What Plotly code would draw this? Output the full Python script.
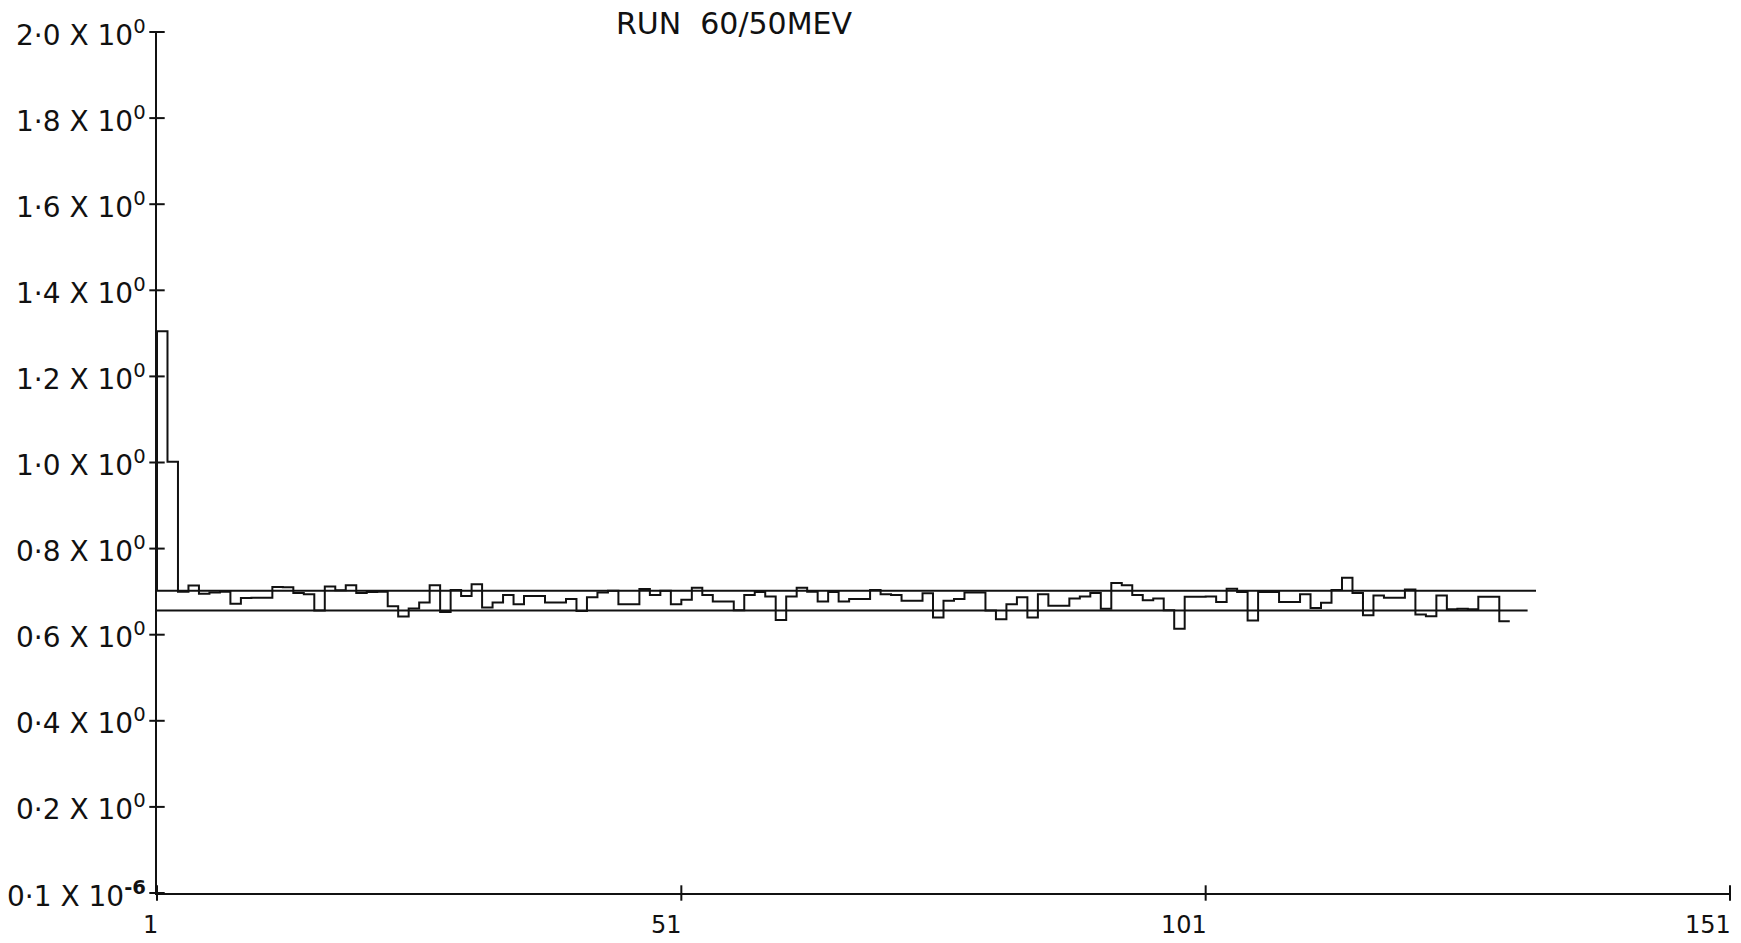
import plotly.graph_objects as go

# ---- data ----
bin_values = [
    1.305, 1.002, 0.700, 0.714, 0.695, 0.698, 0.700, 0.672, 0.685, 0.686,
    0.686, 0.711, 0.710, 0.697, 0.694, 0.656, 0.712, 0.703, 0.715, 0.697,
    0.699, 0.700, 0.666, 0.642, 0.661, 0.675, 0.715, 0.653, 0.704, 0.690,
    0.717, 0.663, 0.675, 0.692, 0.671, 0.690, 0.690, 0.675, 0.675, 0.683,
    0.655, 0.687, 0.698, 0.702, 0.671, 0.671, 0.706, 0.692, 0.702, 0.671,
    0.681, 0.709, 0.692, 0.677, 0.677, 0.657, 0.692, 0.699, 0.689, 0.634,
    0.689, 0.709, 0.700, 0.677, 0.699, 0.677, 0.683, 0.683, 0.704, 0.694,
    0.692, 0.679, 0.679, 0.696, 0.640, 0.679, 0.683, 0.698, 0.698, 0.656,
    0.636, 0.671, 0.687, 0.640, 0.694, 0.667, 0.667, 0.684, 0.689, 0.697,
    0.660, 0.720, 0.715, 0.692, 0.680, 0.684, 0.657, 0.614, 0.688, 0.688,
    0.689, 0.676, 0.707, 0.699, 0.633, 0.699, 0.699, 0.676, 0.676, 0.694,
    0.662, 0.674, 0.704, 0.732, 0.697, 0.645, 0.691, 0.686, 0.686, 0.705,
    0.647, 0.643, 0.691, 0.659, 0.660, 0.659, 0.688, 0.688, 0.631,
]
bin_start = 1
upper_level = 0.702
lower_level = 0.656
upper_end = 132.5
lower_end = 131.7

y_tick_vals = [0.0, 0.2, 0.4, 0.6, 0.8, 1.0, 1.2, 1.4, 1.6, 1.8, 2.0]
y_tick_text = [
    "0·1 X 10<sup><b>-6</b></sup>",
    "0·2 X 10<sup>0</sup>", "0·4 X 10<sup>0</sup>", "0·6 X 10<sup>0</sup>",
    "0·8 X 10<sup>0</sup>", "1·0 X 10<sup>0</sup>", "1·2 X 10<sup>0</sup>",
    "1·4 X 10<sup>0</sup>", "1·6 X 10<sup>0</sup>", "1·8 X 10<sup>0</sup>",
    "2·0 X 10<sup>0</sup>",
]
x_tick_vals = [1, 51, 101, 151]
x_tick_text = ["1", "51", "101", "151"]
title_text = "RUN\u00a0\u00a060/50MEV"

FONT = "DejaVu Sans"
INK = "#111111"

n = len(bin_values)
step_x = [bin_start] + [bin_start + i for i in range(n + 1)]
step_y = [upper_level] + bin_values + [bin_values[-1]]

fig = go.Figure()

# reference levels
fig.add_trace(go.Scatter(x=[bin_start, upper_end], y=[upper_level, upper_level],
                         mode="lines", line=dict(color=INK, width=2), hoverinfo="skip"))
fig.add_trace(go.Scatter(x=[bin_start, lower_end], y=[lower_level, lower_level],
                         mode="lines", line=dict(color=INK, width=2), hoverinfo="skip"))

# histogram
fig.add_trace(go.Scatter(x=step_x, y=step_y, mode="lines", line_shape="hv",
                         line=dict(color=INK, width=2)))

# cross ticks on the axes
fig.add_trace(go.Scatter(x=[x_tick_vals[0]] * len(y_tick_vals), y=y_tick_vals, mode="markers",
                         marker=dict(symbol="line-ew", size=11, line=dict(color=INK, width=2)),
                         cliponaxis=False, hoverinfo="skip"))
fig.add_trace(go.Scatter(x=x_tick_vals, y=[y_tick_vals[0]] * len(x_tick_vals), mode="markers",
                         marker=dict(symbol="line-ns", size=11, line=dict(color=INK, width=2)),
                         cliponaxis=False, hoverinfo="skip"))

annotations = []
for v, t in zip(y_tick_vals, y_tick_text):
    annotations.append(dict(x=x_tick_vals[0], y=v, xref="x", yref="y", text=t,
                            showarrow=False, xanchor="right", yanchor="middle",
                            xshift=-9, yshift=-1,
                            font=dict(family=FONT, size=28, color=INK)))
for v, t in zip(x_tick_vals, x_tick_text):
    annotations.append(dict(x=v, y=y_tick_vals[0], xref="x", yref="y", text=t,
                            showarrow=False, xanchor="right", yanchor="top",
                            xshift=3, yshift=-16,
                            font=dict(family=FONT, size=24, color=INK)))

fig.update_layout(
    width=1741, height=943,
    margin=dict(l=157, r=11, t=32, b=50),
    paper_bgcolor="white", plot_bgcolor="white",
    showlegend=False,
    title=dict(text=title_text, x=0.4216, y=0.975, xanchor="center", yanchor="middle",
               font=dict(family=FONT, size=30, color=INK)),
    annotations=annotations,
    xaxis=dict(range=[1, 151], showgrid=False, zeroline=False, showticklabels=False,
               ticks="", showline=True, linecolor=INK, linewidth=2),
    yaxis=dict(range=[0, 2.0], showgrid=False, zeroline=False, showticklabels=False,
               ticks="", showline=True, linecolor=INK, linewidth=2),
)

fig.write_html("out.html")
